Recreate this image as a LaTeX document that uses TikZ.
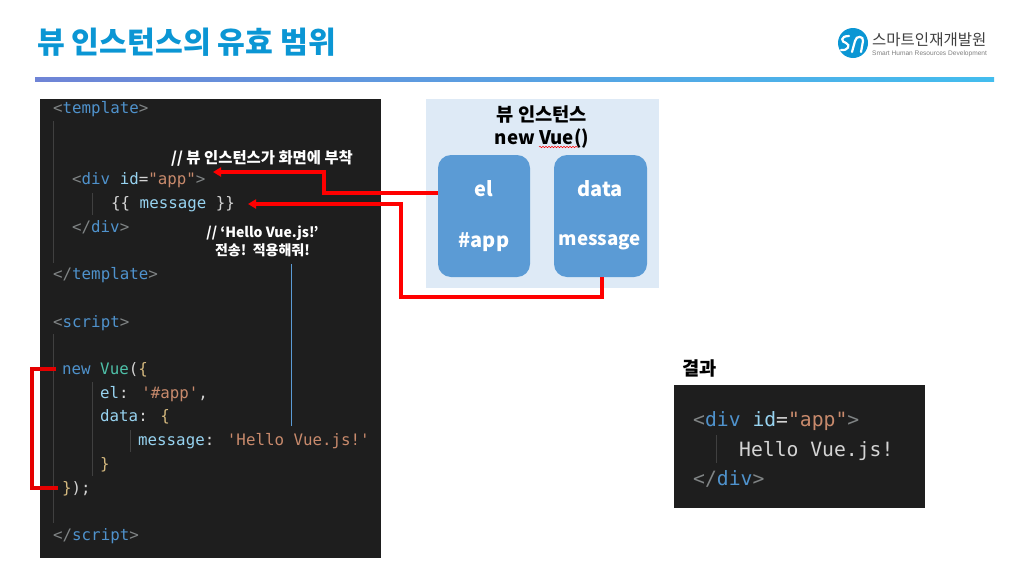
\documentclass[tikz,border=0pt]{standalone}
\usepackage{fontspec}
\setmainfont{Noto Sans CJK KR}
\newfontfamily\codefont{DejaVu Sans Mono}
\newfontfamily\logofont{Liberation Sans}
\usepackage{xcolor}
\usetikzlibrary{arrows.meta, positioning, calc, decorations.pathmorphing}
\definecolor{titleblue}{HTML}{0B96D4}
\definecolor{rulestart}{HTML}{6F84D6}
\definecolor{ruleend}{HTML}{43BDEE}
\definecolor{codebg}{HTML}{1E1E1E}
\definecolor{guidegray}{HTML}{404040}
\definecolor{panelblue}{HTML}{DEEAF6}
\definecolor{boxblue}{HTML}{5B9BD5}
\definecolor{cgray}{HTML}{808485}
\definecolor{cblue}{HTML}{4F92CC}
\definecolor{cteal}{HTML}{4EC0A8}
\definecolor{clight}{HTML}{97D3F0}
\definecolor{cstr}{HTML}{C88A6C}
\definecolor{ctext}{HTML}{D4D4D4}
\definecolor{cgold}{HTML}{D4B87E}
\newcommand{\cbr}[1]{\textcolor{cgray}{#1}}
\newcommand{\cbl}[1]{\textcolor{cblue}{#1}}
\newcommand{\cte}[1]{\textcolor{cteal}{#1}}
\newcommand{\cli}[1]{\textcolor{clight}{#1}}
\newcommand{\cst}[1]{\textcolor{cstr}{#1}}
\newcommand{\ctx}[1]{\textcolor{ctext}{#1}}
\newcommand{\cgo}[1]{\textcolor{cgold}{#1}}
\begin{document}
\begin{tikzpicture}[x=1pt,y=-1pt,
    codeline/.style={anchor=base west,inner sep=0pt,font=\codefont\fontsize{15.8}{18}\selectfont},
    resultline/.style={anchor=base west,inner sep=0pt,font=\codefont\fontsize{19.7}{22}\selectfont},
    callout/.style={white,inner sep=0pt,align=center,font=\bfseries\fontsize{14}{18}\selectfont},
    boxlabel/.style={white,inner sep=0pt,anchor=base,font=\bfseries\fontsize{20}{24}\selectfont},
    fieldbox/.style={fill=boxblue,rounded corners=13pt,minimum width=92pt,minimum height=122pt,inner sep=0pt},
    redline/.style={red,line width=3.2pt},
    guide/.style={guidegray,line width=1pt}]
  \useasboundingbox (0,0) rectangle (1028,576);
  \fill[white] (0,0) rectangle (1028,576);
  % title and rule
  \node[anchor=base west,inner sep=0pt,titleblue,font=\bfseries\fontsize{30.2}{36}\selectfont] (title) at (37,53) {뷰 인스턴스의 유효 범위};
  \shade[left color=rulestart,right color=ruleend] (35,77) rectangle (994,81);
  % logo
  \fill[titleblue] (853,43) circle (15);
  \draw[white,line width=2.2pt,line cap=round] (849,36) .. controls (840,36) and (841,42) .. (846,43) .. controls (851,45) and (848,51) .. (841,50);
  \draw[white,line width=2.2pt,line cap=round] (852,52) -- (855,41) .. controls (856,35) and (864,36) .. (863,41) -- (861,52);
  \node[anchor=base west,inner sep=0pt,black!75,font=\fontsize{15.5}{18}\selectfont] (logoname) at (872,45.5) {스마트인재개발원};
  \node[anchor=base west,inner sep=0pt,black!50,font=\logofont\fontsize{6.6}{8}\selectfont] (logosub) at (872,55) {Smart Human Resources Development};
  % code panel
  \fill[codebg] (40,99) rectangle (381,558);
  \foreach \xx/\ya/\yb in {53/121/263,92/193/215,53/334/523,92/382/476,130/430/452}{
    \draw[guide] (\xx,\ya) -- (\xx,\yb);
  }
  \foreach \nm/\xx/\yy/\txt in {
    tplopen/53/113/{\cbr{<}\cbl{template}\cbr{>}},
    divopen/72/184/{\cbr{<}\cbl{div} \cli{id}\ctx{=}\cst{"app"}\cbr{>}},
    mustache/111/208/{\ctx{\{\{} \cli{message} \ctx{\}\}}},
    divclose/72/232/{\cbr{</}\cbl{div}\cbr{>}},
    tplclose/53/279/{\cbr{</}\cbl{template}\cbr{>}},
    scropen/53/327/{\cbr{<}\cbl{script}\cbr{>}},
    newvue/62/374/{\cbl{new} \cte{Vue}\ctx{(}\cgo{\{}},
    elline/100/398/{\cli{el}\ctx{:} \cst{'\#app'}\ctx{,}},
    dataline/100/421/{\cli{data}\ctx{:} \cgo{\{}},
    msgline/138/445/{\cli{message}\ctx{:} \cst{'Hello Vue.js!'}},
    dataclose/100/469/{\cgo{\}}},
    vueclose/62/493/{\cgo{\}}\ctx{);}},
    scrclose/53/540/{\cbr{</}\cbl{script}\cbr{>}}
  }{
    \node[codeline] (\nm) at (\xx,\yy) {\txt};
  }
  % bracket round new Vue
  \coordinate (vuetop) at (56,369);
  \coordinate (vuebot) at (58,488);
  \draw[redline,line width=3.6pt,red!90!black] (vuetop) -- (32,369) -- (32,488) -- (vuebot);
  % instance panel
  \fill[panelblue] (426,99) rectangle (659,288);
  \node[inner sep=0pt,align=center,font=\bfseries\fontsize{18.7}{23}\selectfont] (insttitle) at (542,127) {뷰 인스턴스\\new Vue()};
  \coordinate (sqa) at (539,147);
  \coordinate (sqb) at (578,147);
  \draw[red,line width=0.5pt,decorate,decoration={snake,amplitude=0.7pt,segment length=3pt}] (sqa) -- (sqb);
  \node[fieldbox] (elbox) at (484,216) {};
  \node[fieldbox,minimum width=93pt] (databox) at (600.5,216) {};
  \node[boxlabel] (ellabel) at (484,196) {el};
  \node[boxlabel] (applabel) at (484,247) {\#app};
  \node[boxlabel] (datalabel) at (600,196) {data};
  \node[boxlabel,font=\bfseries\fontsize{18.7}{22}\selectfont] (msglabel) at (600,245) {message};
  % connectors
  \coordinate (apptip) at (213,172);
  \coordinate (msgtip) at (248,204);
  \draw[redline,-{Triangle[length=8pt,width=9pt]}] ([yshift=23pt]elbox.west) -- (324,193) -- (324,172) -- (apptip);
  \draw[redline,-{Triangle[length=8pt,width=9pt]}] ([xshift=1.5pt]databox.south) -- (602,297) -- (401,297) -- (401,204) -- (msgtip);
  % callouts
  \node[callout,font=\bfseries\fontsize{15.4}{18}\selectfont] (attach) at (262,158) {// 뷰 인스턴스가 화면에 부착};
  \node[callout] (send) at (262.5,241.5) {// ‘Hello Vue.js!’\\전송!\ \ 적용해줘!};
  \coordinate (senda) at (291.5,264);
  \coordinate (sendb) at (291.5,426);
  \draw[boxblue,line width=0.8pt] (senda) -- (sendb);
  % result
  \node[inner sep=0pt,font=\bfseries\fontsize{18.7}{22}\selectfont] (resulttitle) at (699.5,368) {결과};
  \fill[codebg] (674,385) rectangle (925,508);
  \draw[guide] (716,435) -- (716,463);
  \node[resultline] (resa) at (693,426) {\cbr{<}\cbl{div} \cli{id}\ctx{=}\cst{"app"}\cbr{>}};
  \node[resultline] (resb) at (739,456.5) {\ctx{Hello Vue.js!}};
  \node[resultline] (resc) at (693,485) {\cbr{</}\cbl{div}\cbr{>}};
\end{tikzpicture}
\end{document}
